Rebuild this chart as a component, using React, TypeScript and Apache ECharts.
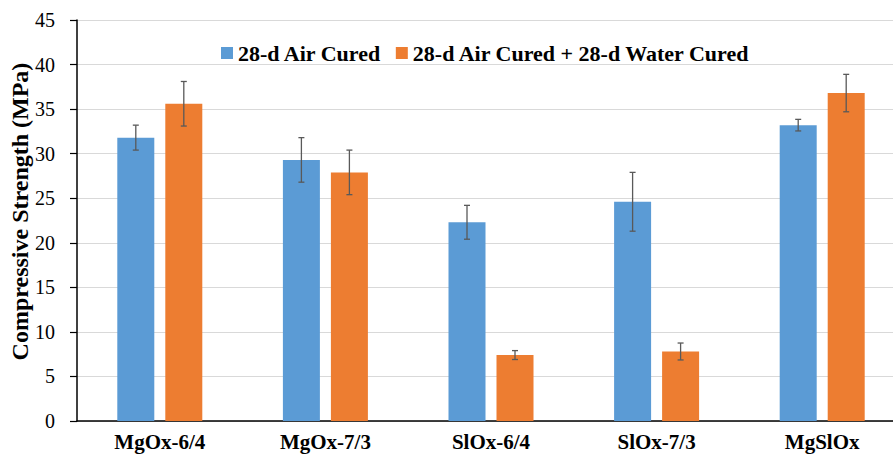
import React, { useEffect, useRef } from "react";
import * as echarts from "echarts";

const categories = ["MgOx-6/4", "MgOx-7/3", "SlOx-6/4", "SlOx-7/3", "MgSlOx"];
const airCured = [31.8, 29.3, 22.3, 24.6, 33.2];
const airCuredErr = [1.4, 2.5, 1.9, 3.3, 0.65];
const waterCured = [35.6, 27.9, 7.4, 7.8, 36.8];
const waterCuredErr = [2.5, 2.5, 0.5, 0.95, 2.1];
const seriesNames = ["28-d Air Cured", "28-d Air Cured + 28-d Water Cured"];

const BAR_W = 37;
const BAR_GAP = 11;
const SERIF = "Liberation Serif";

function errorSeries(values: number[], errs: number[], side: number) {
  return {
    type: "custom",
    silent: true,
    z: 10,
    data: values.map((v, i) => [i, v - errs[i], v + errs[i]]),
    renderItem: (_params: any, api: any) => {
      const idx = api.value(0);
      const lo = api.coord([idx, api.value(1)]);
      const hi = api.coord([idx, api.value(2)]);
      const x = lo[0] + side * (BAR_W + BAR_GAP) / 2;
      const cap = 3;
      const style = { stroke: "#595959", lineWidth: 1.3 };
      return {
        type: "group",
        children: [
          { type: "line", shape: { x1: x, y1: lo[1], x2: x, y2: hi[1] }, style },
          { type: "line", shape: { x1: x - cap, y1: lo[1], x2: x + cap, y2: lo[1] }, style },
          { type: "line", shape: { x1: x - cap, y1: hi[1], x2: x + cap, y2: hi[1] }, style },
        ],
      };
    },
  };
}

export default function App() {
  const ref = useRef<HTMLDivElement>(null);
  useEffect(() => {
    if (!ref.current) return;
    const chart = echarts.init(ref.current, undefined, { renderer: "svg" });
    chart.setOption({
      animation: false,
      backgroundColor: "#ffffff",
      textStyle: { fontFamily: SERIF },
      legend: {
        top: 37,
        left: 216,
        itemWidth: 12,
        itemHeight: 12,
        itemGap: 14,
        icon: "rect",
        textStyle: { fontFamily: SERIF, fontWeight: "bold", fontSize: 22, color: "#000" },
        data: seriesNames,
      },
      grid: { left: 77, top: 20, width: 828, height: 401, outerBoundsMode: "none", containLabel: false },
      xAxis: {
        type: "category",
        data: categories,
        axisLine: { lineStyle: { color: "#000", width: 1.5 } },
        axisTick: { show: false },
        axisLabel: {
          fontFamily: SERIF,
          fontWeight: "bold",
          fontSize: 21,
          color: "#000",
          margin: 10,
        },
      },
      yAxis: {
        type: "value",
        min: 0,
        max: 45,
        interval: 5,
        name: "Compressive Strength (MPa)",
        nameLocation: "middle",
        nameGap: 45,
        nameMoveOverlap: false,
        nameTextStyle: {
          fontFamily: SERIF,
          fontWeight: "bold",
          fontSize: 24,
          color: "#000",
          padding: [0, 0, 0, 18],
        },
        axisLine: { show: true, lineStyle: { color: "#000", width: 1.5 } },
        axisTick: { show: true, length: 7, lineStyle: { color: "#000", width: 1.2 } },
        axisLabel: { fontFamily: SERIF, fontSize: 20, color: "#000", margin: 22 },
        splitLine: { lineStyle: { color: "#d9d9d9", width: 1.2 } },
      },
      series: [
        {
          name: seriesNames[0],
          type: "bar",
          data: airCured,
          barWidth: BAR_W,
          barGap: `${(BAR_GAP / BAR_W) * 100}%`,
          itemStyle: { color: "#5B9BD5" },
        },
        {
          name: seriesNames[1],
          type: "bar",
          data: waterCured,
          barWidth: BAR_W,
          itemStyle: { color: "#ED7D31" },
        },
        errorSeries(airCured, airCuredErr, -1),
        errorSeries(waterCured, waterCuredErr, 1),
      ],
    });
    return () => chart.dispose();
  }, []);
  return (
    <div
      ref={ref}
      style={{ position: "fixed", left: 0, top: 0, width: 893, height: 454 }}
    />
  );
}
